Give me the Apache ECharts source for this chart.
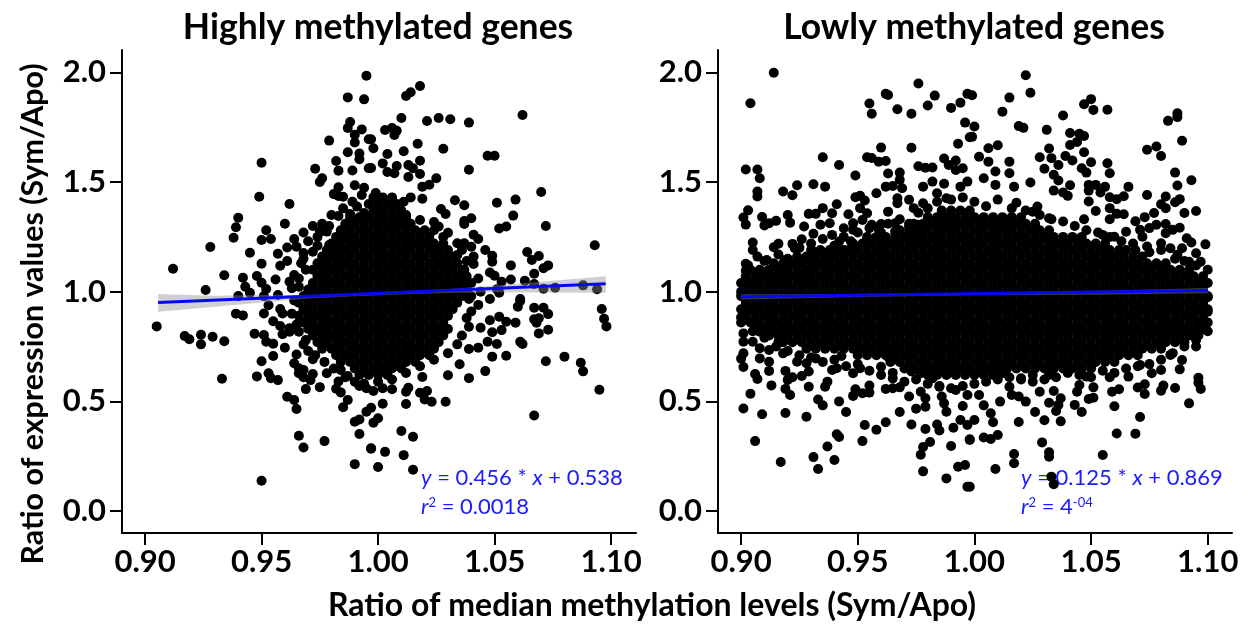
<!DOCTYPE html>
<html><head><meta charset="utf-8">
<script src="https://cdn.jsdelivr.net/npm/echarts@6/dist/echarts.min.js"></script>
<style>html,body{margin:0;background:#fff}#c{width:1250px;height:625px}</style></head>
<body><div id="c"></div>
<script>
const xTicks=[0.9,0.95,1,1.05,1.1];
const yTicks=[0,0.5,1,1.5,2];
const highPoints=[[.995,1.985],[.987,1.886],[.994,1.877],[.988,1.774],[.987,1.746],[.993,1.74],[.99,1.716],[.99,1.68],[.996,1.695],[.979,1.689],[.987,1.636],[.992,1.63],[.992,1.604],[.982,1.596],[.973,1.561],[.983,1.552],[.989,1.553],[.996,1.563],[.976,1.517],[.975,1.5],[.95,1.588],[.949,1.433],[.962,1.4],[.983,1.476],[.99,1.485],[.994,1.474],[.981,1.445],[.983,1.436],[.993,1.441],[.94,1.337],[.939,1.294],[.938,1.246],[.928,1.204],[.912,1.105],[.926,1.008],[.934,1.075],[.945,1.178],[.952,1.28],[.95,1.236],[.954,1.24],[.96,1.31],[.95,1.128],[.957,1.173],[.961,1.202],[.958,1.118],[.961,1.14],[.964,1.24],[.965,1.205],[.942,1.064],[.948,1.072],[.95,1.041],[.943,1.023],[.945,.995],[.952,1.012],[.956,1.056],[.964,1.076],[.962,1.046],[.963,1.016],[.966,1.023],[.94,.98],[.951,.98],[.957,.985],[.972,1.3],[.976,1.31],[.979,1.3],[.975,1.274],[.978,1.274],[.983,1.345],[.986,1.304],[.988,1.354],[.991,1.388],[.989,1.41],[.985,1.433],[.994,1.359],[.979,1.213],[.979,1.167],[.972,1.182],[.968,1.176],[.967,1.13],[.969,1.1],[.975,1.122],[.984,1.243],
[1.018,1.938],[1.014,1.909],[1.012,1.892],[1.01,1.792],[1.021,1.778],[1.026,1.792],[1.031,1.786],[1.039,1.771],[1.062,1.806],[1.003,1.737],[1.006,1.746],[1.008,1.734],[1.007,1.715],[.997,1.695],[.998,1.654],[1.004,1.628],[1.011,1.64],[1.017,1.675],[1.028,1.652],[1.047,1.62],[1.05,1.62],[1.039,1.556],[1.002,1.585],[.997,1.564],[1.004,1.546],[1.008,1.573],[1.007,1.54],[1.013,1.578],[1.015,1.563],[1.018,1.597],[1.013,1.523],[1.018,1.537],[1.025,1.517],[1.022,1.488],[1.019,1.479],[1.07,1.455],[1.059,1.42],[1.051,1.406],[1.033,1.417],[1.037,1.394],[1.027,1.377],[1.029,1.354],[1.019,1.424],[1.014,1.43],[1.058,1.347],[1.055,1.297],[1.052,1.288],[1.072,1.3],[1.04,1.335],[1.037,1.322],[1.037,1.309],[1.024,1.318],[1.026,1.297],[1.018,1.327],[1.041,1.26],[1.043,1.24],[1.03,1.269],[1.093,1.212],[1.046,1.19],[1.064,1.181],[1.069,1.163],[1.066,1.145],[1.049,1.164],[1.049,1.137],[1.057,1.12],[1.073,1.12],[1.071,1.107],[1.067,1.082],[1.041,1.16],[1.041,1.126],[1.037,1.1],[1.048,1.088],[1.05,1.073],[1.057,1.056],[1.053,1.046],[1.063,1.05],[1.067,1.035],[1.071,1.014],[1.076,1.018],[1.088,1.029],[1.094,1.011],[1.051,1.011],[1.052,.995],[1.039,.967],[1.048,.967],[1.061,.967],[1.037,1.023],[1.034,1.221],[1.037,1.221],[1.04,1.205],[1.034,1.167],
[1.061,.958],[1.06,.932],[1.067,.927],[1.071,.927],[1.073,.898],[1.096,.921],[1.097,.877],[1.098,.842],[1.067,.874],[1.069,.879],[1.068,.859],[1.059,.859],[1.073,.827],[1.069,.81],[1.055,.863],[1.052,.886],[1.048,.87],[1.053,.825],[1.044,.836],[1.049,.815],[1.047,.772],[1.051,.762],[1.061,.772],[1.062,.762],[1.039,.739],[1.043,.745],[1.049,.704],[1.055,.708],[1.072,.683],[1.08,.704],[1.087,.676],[1.088,.637],[1.095,.553],[1.067,.436],[1.035,.669],[1.046,.638],[1.039,.606],[1.03,.619],[1.019,.611],[1.013,.562],[1.012,.544],[1.002,.56],[1.006,.555],[.998,.547],[1.018,.539],[1.021,.547],[1.02,.509],[1.023,.498],[1.029,.498],[1.002,.489],[1.012,.488],[.997,.471],[1,.423],[.998,.403],[1.01,.365],[1.015,.339],[.997,.284],[1.003,.27],[1.011,.255],[1,.201],[1.015,.188],
[.905,.842],[.917,.798],[.919,.783],[.924,.804],[.924,.76],[.929,.795],[.934,.774],[.933,.603],[.948,.614],[.95,.683],[.939,.9],[.942,.892],[.951,.901],[.953,.938],[.958,.921],[.959,.901],[.947,.808],[.951,.803],[.952,.772],[.955,.763],[.955,.865],[.958,.844],[.962,.834],[.959,.806],[.962,.818],[.96,.745],[.955,.707],[.953,.628],[.954,.606],[.957,.597],[.965,.714],[.97,.73],[.969,.78],[.966,.818],[.972,.692],[.964,.674],[.966,.651],[.968,.643],[.966,.628],[.968,.61],[.971,.597],[.972,.625],[.978,.628],[.969,.556],[.975,.565],[.983,.591],[.982,.558],[.984,.541],[.961,.521],[.964,.506],[.965,.465],[.987,.506],[.985,.473],[.992,.57],[.995,.56],[.995,.453],[.99,.407],[.992,.418],[.992,.351],[.966,.343],[.968,.29],[.977,.319],[.997,.286],[.99,.214],[.95,.138],[.984,.643],[.987,.616],
[.968,1.27],[.974,1.25],[.97,1.23],[.974,1.21],[.968,1.15],[.966,1.06],[.964,.96],[.963,.9],[.965,.85],[.968,.76],[.973,.71],[.977,.68],[.981,.65],[.986,.61],[.99,.59],[.994,.58],[1,.59],[1.006,.6],[1.012,.63],[1.018,.66],[1.024,.69],[1.03,.72],[1.034,.76],[1.036,.8],[1.039,.84],[1.038,.88],[1.04,.91],[1.043,.94],[1.044,1],[1.043,1.06],[1.038,1.14],[1.036,1.19],[1.028,1.25],[1.024,1.28],[1.012,1.35],[1.006,1.39],[1.011,1.41],[.999,1.45],[.985,1.38],[.98,1.35]];
const highCoreY=[1.43,1.40,1.37,1.34,1.31,1.28,1.25,1.22,1.19,1.16,1.13,1.10,1.07,1.04,1.01,.98,.95,.92,.89,.86,.83,.80,.77,.74,.71,.68,.65,.62];
const highCoreXmilli=[
[998,1002,1006],
[996,1000,1004,1008],
[998,1002,1006,1010],
[988,992,996,1000,1004,1008,1012],
[986,990,994,998,1002,1006,1010,1014],
[984,988,992,996,1000,1004,1008,1012,1016,1020],
[982,986,990,994,998,1002,1006,1010,1014,1018,1022],
[980,984,988,992,996,1000,1004,1008,1012,1016,1020,1024,1028],
[978,982,986,990,994,998,1002,1006,1010,1014,1018,1022,1026,1030],
[976,980,984,988,992,996,1000,1004,1008,1012,1016,1020,1024,1028,1032],
[974,978,982,986,990,994,998,1002,1006,1010,1014,1018,1022,1026,1030,1034],
[972,976,980,984,988,992,996,1000,1004,1008,1012,1016,1020,1024,1028,1032,1036],
[974,978,982,986,990,994,998,1002,1006,1010,1014,1018,1022,1026,1030,1034,1038],
[972,976,980,984,988,992,996,1000,1004,1008,1012,1016,1020,1024,1028,1032,1036,1040],
[970,974,978,982,986,990,994,998,1002,1006,1010,1014,1018,1022,1026,1030,1034,1038],
[968,972,976,980,984,988,992,996,1000,1004,1008,1012,1016,1020,1024,1028,1032,1036,1040],
[966,970,974,978,982,986,990,994,998,1002,1006,1010,1014,1018,1022,1026,1030,1034],
[968,972,976,980,984,988,992,996,1000,1004,1008,1012,1016,1020,1024,1028,1032],
[966,970,974,978,982,986,990,994,998,1002,1006,1010,1014,1018,1022,1026,1030],
[968,972,976,980,984,988,992,996,1000,1004,1008,1012,1016,1020,1024,1028],
[970,974,978,982,986,990,994,998,1002,1006,1010,1014,1018,1022,1026,1030],
[972,976,980,984,988,992,996,1000,1004,1008,1012,1016,1020,1024,1028],
[974,978,982,986,990,994,998,1002,1006,1010,1014,1018,1022,1026],
[976,980,984,988,992,996,1000,1004,1008,1012,1016,1020,1024],
[982,986,990,994,998,1002,1006,1010,1014,1018,1022],
[984,988,992,996,1000,1004,1008,1012,1016],
[990,994,998,1002,1006,1010],
[992,996,1000,1004]];
const lowPoints=[[.914,1.998],[.904,1.859],[.955,1.858],[.956,1.811],[.962,1.902],[.963,1.897],[.967,1.832],[.973,1.811],[.976,1.949],[.98,1.849],[.983,1.894],[.99,1.838],[.994,1.862],[.997,1.902],[.996,1.771],[.993,1.675],[.998,1.704],[.973,1.656],[.96,1.657],[.935,1.613],[.942,1.578],[.949,1.53],[.954,1.613],[.956,1.61],[.959,1.593],[.962,1.596],[.963,1.539],[.968,1.543],[.968,1.51],[.976,1.572],[.979,1.565],[.982,1.566],[.987,1.607],[.992,1.598],[.989,1.578],[.992,1.555],[.995,1.563],[.902,1.557],[.907,1.557],[.908,1.517],[.907,1.457],[.907,1.434],[.918,1.457],[.922,1.44],[.924,1.485],[.931,1.49],[.936,1.479],[.903,1.371],[.901,1.338],[.902,1.306],[.909,1.341],[.92,1.35],[.921,1.315],[.91,1.302],[.912,1.312],[.915,1.323],[.929,1.355],[.932,1.355],[.935,1.381],[.939,1.358],[.941,1.399],[.946,1.353],[.949,1.431],[.951,1.437],[.953,1.416],[.951,1.381],[.954,1.358],[.958,1.449],[.962,1.479],[.965,1.482],[.969,1.472],[.963,1.365],[.967,1.426],[.967,1.403],[.972,1.419],[.974,1.381],[.978,1.479],[.982,1.502],[.987,1.492],[.984,1.449],[.988,1.426],[.978,1.403],[.994,1.479],[.997,1.502],[.927,1.297],[.931,1.264],[.934,1.305],[.938,1.312],[.939,1.259],[.944,1.289],[.948,1.312],[.952,1.327],[.956,1.305],[.96,1.309],[.959,1.285],[.966,1.312],[.966,1.274],[.972,1.297],[.976,1.305],[.976,1.259],[.926,1.239],[.916,1.219],[.914,1.203],[.922,1.218],[.923,1.198],[.905,1.224],[.905,1.19],[.907,1.16],[.911,1.145],[.902,1.127],[.902,1.096],[.908,1.061],[.911,1.092],[.919,1.145],[.926,1.137],[.931,1.183],[.942,1.229],[.948,1.282],[.954,1.221],[.948,1.175],[.944,1.19],[.9,1],[.906,1.005],[.911,1.008],[.916,1.054],[.921,1.069],[.926,1.069],[.931,1.115],[.937,1.13],
[1.022,1.987],[1.024,1.907],[1.015,1.885],[.999,1.896],[1.012,1.821],[1.019,1.755],[1.021,1.747],[1,1.753],[.999,1.706],[1.031,1.738],[1.038,1.803],[1.047,1.855],[1.05,1.878],[1.051,1.829],[1.057,1.83],[1.041,1.724],[1.045,1.72],[1.047,1.71],[1.044,1.683],[1.041,1.669],[1.01,1.668],[1.006,1.654],[1.032,1.653],[1.047,1.636],[1.039,1.619],[1.028,1.613],[1.033,1.609],[1.002,1.615],[1.006,1.593],[1.015,1.593],[1.042,1.598],[1.05,1.59],[1.057,1.586],[1.036,1.578],[1.03,1.561],[1.046,1.563],[1.048,1.543],[1.058,1.54],[1.009,1.548],[1.015,1.54],[1.034,1.533],[1.036,1.507],[1.074,1.647],[1.078,1.662],[1.08,1.619],[1.087,1.814],[1.087,1.796],[1.083,1.779],[1.089,1.688],[1.086,1.543],[1.093,1.508],[1.087,1.484],[1.066,1.478],[1.056,1.478],[1.052,1.487],[1.049,1.487],[1.041,1.485],[1.024,1.498],[1.017,1.479],[1.009,1.487],[1.004,1.517],[1.034,1.461],[1.038,1.452],[1.04,1.437],[1.049,1.461],[1.054,1.452],[1.049,1.411],[1.058,1.431],[1.061,1.422],[1.064,1.435],[1.074,1.441],[1.082,1.434],[1.088,1.422],[1.086,1.408],[1.08,1.399],[1.082,1.381],[1.09,1.359],[1.095,1.368],[1.077,1.359],[1.073,1.34],[1.069,1.321],[1.058,1.33],[1.058,1.381],[1.052,1.368],[1.061,1.355],[1.064,1.353],[1.047,1.33],[1.018,1.406],[1.025,1.365],[1.027,1.388],[1.032,1.335],[1.075,1.29],[1.078,1.305],[1.082,1.309],[1.088,1.292],[1.071,1.282],[1.072,1.251],[1.065,1.273],[1.06,1.251],[1.055,1.259],[1.099,1.216],[1.095,1.175],[1.093,1.224],[1.089,1.198],[1.091,1.244],[1.087,1.168],[1.084,1.198],[1.08,1.221],[1.082,1.267],[1.085,1.282],[1.069,1.19],[1.074,1.206],[1.092,1.137],[1.097,1.137],[1.065,1.19],
[.9,.883],[.901,.468],[.904,.535],[.906,.319],[.909,.441],[.917,.224],[.919,.447],[.928,.43],[.931,.246],[.933,.192],[.94,.233],[.937,.294],[.941,.35],[.942,.338],[.945,.452],[.935,.482],[.933,.509],[.942,.5],[.952,.319],[.953,.392],[.958,.371],[.962,.405],[.968,.452],[.973,.395],[.975,.467],[.979,.374],[.984,.395],[.985,.367],[.991,.38],[.988,.453],[.981,.315],[.978,.292],[.977,.257],[.978,.181],[.988,.149],[.99,.297],[.993,.202],[.996,.21],[.997,.111],[.998,.324],[.994,.415],[.997,.392],[.913,.573],[.907,.602],[.906,.625],[.901,.657],[.9,.695],[.901,.719],[.919,.639],[.918,.719],[.912,.639],[.912,.681],[.908,.696],[.919,.557],[.921,.529],[.92,.598],[.922,.61],[.926,.616],[.929,.567],[.929,.636],[.936,.567],[.937,.59],[.939,.643],[.941,.651],[.924,.681],[.928,.674],[.932,.696],[.943,.707],[.948,.525],[.949,.555],[.952,.537],[.955,.572],[.955,.54],[.948,.628],[.951,.651],[.962,.557],[.965,.56],[.968,.564],[.972,.522],[.977,.544],[.979,.514],[.979,.476],[.985,.567],[.986,.522],[.987,.491],[.992,.552],[.995,.479],[.997,.529],[.96,.658],[.965,.605],[.973,.636],[.977,.628],[.982,.605],[.963,.704],[.901,.81],[.901,.772],[.908,.818],[.905,.772],[.908,.742],[.912,.734],[.916,.772],[.919,.813],
[1.033,.157],[1.034,.122],[1.009,.192],[1.017,.218],[1.017,.26],[.998,.111],[1.032,.248],[1.032,.268],[1.029,.313],[1.055,.256],[1.061,.354],[1.069,.353],[1.071,.429],[1.092,.491],[1.06,.478],[1.046,.452],[1.037,.409],[1.03,.414],[1.019,.406],[1.026,.452],[1.035,.456],[1.008,.405],[1.007,.446],[1.004,.482],[1,.415],[.998,.327],[1.004,.335],[1.007,.329],[1.01,.347],[1.011,.499],[1.002,.529],[1.022,.499],[1.032,.494],[1.036,.484],[1.037,.514],[1.043,.484],[1.049,.511],[1.051,.517],[1.051,.564],[1.059,.544],[1.062,.555],[1.07,.563],[1.073,.578],[1.073,.534],[1.08,.549],[1.081,.572],[1.086,.561],[1.097,.557],[1.096,.585],[1.096,.608],[1.034,.547],[1.044,.544],[1.045,.575],[1.019,.522],[1.016,.529],[1.028,.544],[1.025,.59],[1.015,.567],[1.012,.628],[1.02,.605],[1.032,.62],[1.048,.613],[1.058,.61],[1.066,.613],[1.071,.666],[1.076,.628],[1.08,.643],[1.088,.646],[1.089,.689],[1.084,.712],[1.095,.75],[1.097,.826],[1.1,.909],[1.1,.975],
[.903,1.12],[.91,1.14],[.916,1.17],[.92,1.15],[.925,1.2],[.93,1.22],[.935,1.24],[.94,1.21],[.944,1.25],[.947,1.23],[.95,1.27],[.955,1.29],[.96,1.27],[.963,1.31],[.968,1.33],[.972,1.31],[.976,1.36],[.98,1.38],[.984,1.41],[.99,1.42],[.995,1.43],[1,1.41],[1.005,1.39],[1.01,1.42],[1.016,1.38],[1.022,1.37],[1.028,1.35],[1.033,1.33],[1.038,1.32],[1.043,1.3],[1.048,1.28],[1.053,1.27],[1.058,1.25],[1.063,1.23],[1.068,1.22],[1.075,1.18],[1.08,1.19],[1.086,1.15],[1.09,1.14],[1.095,1.12],[1.1,1.1],
[.905,.82],[.91,.79],[.915,.75],[.92,.73],[.925,.71],[.93,.7],[.935,.68],[.94,.69],[.945,.66],[.95,.67],[.955,.64],[.96,.62],[.965,.63],[.97,.59],[.975,.6],[.98,.58],[.985,.57],[.99,.56],[.995,.57],[1,.58],[1.005,.59],[1.01,.6],[1.015,.61],[1.02,.6],[1.025,.62],[1.03,.6],[1.035,.61],[1.04,.63],[1.045,.62],[1.05,.61],[1.055,.64],[1.06,.63],[1.065,.65],[1.07,.66],[1.075,.67],[1.08,.69],[1.085,.72],[1.09,.75],[1.095,.78],[1.1,.82]];
const lowCoreY=[1.37,1.34,1.31,1.28,1.25,1.22,1.19,1.16,1.13,1.10,1.07,1.04,1.01,.98,.95,.92,.89,.86,.83,.80,.77,.74,.71,.68,.65,.62];
const fullEven=[900,904,908,912,916,920,924,928,932,936,940,944,948,952,956,960,964,968,972,976,980,984,988,992,996,1000,1004,1008,1012,1016,1020,1024,1028,1032,1036,1040,1044,1048,1052,1056,1060,1064,1068,1072,1076,1080,1084,1088,1092,1096,1100];
const fullOdd=[902,906,910,914,918,922,926,930,934,938,942,946,950,954,958,962,966,970,974,978,982,986,990,994,998,1002,1006,1010,1014,1018,1022,1026,1030,1034,1038,1042,1046,1050,1054,1058,1062,1066,1070,1074,1078,1082,1086,1090,1094,1098];
const lowCoreXmilli=[
[986,990,994,998],
[980,984,988,992,996,1000,1004,1008,1012,1016,1020],
[974,978,982,986,990,994,998,1002,1006,1010,1014,1018,1022,1026],
[968,972,976,980,984,988,992,996,1000,1004,1008,1012,1016,1020,1024,1028,1032],
[954,958,962,966,970,974,978,982,986,990,994,998,1002,1006,1010,1014,1018,1022,1026,1030,1034,1038,1042,1046],
[948,952,956,960,964,968,972,976,980,984,988,992,996,1000,1004,1008,1012,1016,1020,1024,1028,1032,1036,1040,1044,1048,1052,1056],
[930,934,938,942,946,950,954,958,962,966,970,974,978,982,986,990,994,998,1002,1006,1010,1014,1018,1022,1026,1030,1034,1038,1042,1046,1050,1054,1058,1062],
[924,928,932,936,940,944,948,952,956,960,964,968,972,976,980,984,988,992,996,1000,1004,1008,1012,1016,1020,1024,1028,1032,1036,1040,1044,1048,1052,1056,1060,1064,1068,1072],
[914,918,922,926,930,934,938,942,946,950,954,958,962,966,970,974,978,982,986,990,994,998,1002,1006,1010,1014,1018,1022,1026,1030,1034,1038,1042,1046,1050,1054,1058,1062,1066,1070,1074,1078,1082],
[904,908,912,916,920,924,928,932,936,940,944,948,952,956,960,964,968,972,976,980,984,988,992,996,1000,1004,1008,1012,1016,1020,1024,1028,1032,1036,1040,1044,1048,1052,1056,1060,1064,1068,1072,1076,1080,1084,1088,1092],
fullOdd,fullEven,fullOdd,fullEven,fullOdd,fullEven,fullOdd,fullEven,
[906,910,914,918,922,926,930,934,938,942,946,950,954,958,962,966,970,974,978,982,986,990,994,998,1002,1006,1010,1014,1018,1022,1026,1030,1034,1038,1042,1046,1050,1054,1058,1062,1066,1070,1074,1078,1082,1086,1090,1094,1098],
[912,916,920,924,928,932,936,940,944,948,952,956,960,964,968,972,976,980,984,988,992,996,1000,1004,1008,1012,1016,1020,1024,1028,1032,1036,1040,1044,1048,1052,1056,1060,1064,1068,1072,1076,1080,1084,1088,1092,1096],
[918,922,926,930,934,938,942,946,950,954,958,962,966,970,974,978,982,986,990,994,998,1002,1006,1010,1014,1018,1022,1026,1030,1034,1038,1042,1046,1050,1054,1058,1062,1066,1070,1074,1078,1082,1086,1090],
[928,932,936,940,944,948,952,956,960,964,968,972,976,980,984,988,992,996,1000,1004,1008,1012,1016,1020,1024,1028,1032,1036,1040,1044,1048,1052,1056,1060,1064,1068,1072,1076,1080],
[950,954,958,962,966,970,974,978,982,986,990,994,998,1002,1006,1010,1014,1018,1022,1026,1030,1034,1038,1042,1046,1050,1054,1058,1062,1066,1070],
[964,968,972,976,980,984,988,992,996,1000,1004,1008,1012,1016,1020,1024,1028,1032,1036,1040,1044,1048,1052,1056,1060],
[970,974,978,982,986,990,994,998,1002,1006,1010,1014,1018,1022,1026,1030,1034,1038,1042,1046,1050],
[980,984,988,992,996,1000,1004,1008]];
const highLineX=[0.9056,1.0977], highLineY=[0.951,1.036];
const lowLineX=[0.9,1.1], lowLineY=[0.977,1.005];
const highBandX=[.9056,.93,.95,.97,.985,1,1.015,1.03,1.05,1.075,1.0977];
const highBandLow=[.909,.932,.951,.969,.977,.984,.990,.994,.998,.997,.995];
const highBandHigh=[.990,.982,.985,.985,.988,.995,1.003,1.012,1.028,1.050,1.071];
const lowBandX=[.9,.95,1,1.05,1.1];
const lowBandLow=[.965,.976,.984,.986,.993];
const lowBandHigh=[.989,.990,.994,1.003,1.017];

const FONT='Lato';
const expand=(ys,rows)=>ys.flatMap((y,i)=>rows[i].map(m=>[m/1000,y]));
const axisLine={show:true,onZero:false,lineStyle:{color:'#000',width:2}};
const xAxisOf=(i,min,max)=>({type:'value',gridIndex:i,min,max,splitLine:{show:false},axisLine,
  axisTick:{show:true,length:12,lineStyle:{color:'#000',width:2},customValues:xTicks},
  axisLabel:{customValues:xTicks,formatter:v=>v.toFixed(2),fontFamily:FONT,fontWeight:'bold',fontSize:31,color:'#000',margin:13}});
const yAxisOf=i=>({type:'value',gridIndex:i,min:-0.1,max:2.102,splitLine:{show:false},axisLine,
  axisTick:{show:true,length:12,lineStyle:{color:'#000',width:2},customValues:yTicks},
  axisLabel:{customValues:yTicks,formatter:v=>v.toFixed(1),fontFamily:FONT,fontWeight:'bold',fontSize:31,color:'#000',margin:16}});
const pts=(i,data)=>({type:'scatter',xAxisIndex:i,yAxisIndex:i,data,symbol:'circle',symbolSize:10,itemStyle:{color:'#000',opacity:1},silent:true,z:2,large:false});
const band=(i,xs,lo,hi)=>({type:'custom',xAxisIndex:i,yAxisIndex:i,z:3,silent:true,encode:{x:0,y:[1,2]},
  data:xs.map((x,k)=>[x,lo[k],hi[k]]),
  renderItem:(p,api)=>{ if(p.dataIndex!==0) return null;
    const top=xs.map((x,k)=>api.coord([x,hi[k]])), bot=xs.map((x,k)=>api.coord([x,lo[k]])).reverse();
    return {type:'polygon',shape:{points:top.concat(bot)},style:{fill:'rgba(143,143,143,0.42)'}};}});
const reg=(i,xs,ys)=>({type:'line',xAxisIndex:i,yAxisIndex:i,z:4,silent:true,showSymbol:false,data:xs.map((x,k)=>[x,ys[k]]),lineStyle:{color:'#0808f0',width:3}});
const rich={i:{fontStyle:'italic',fontFamily:FONT,fontSize:22,fill:'#1a1aff',color:'#1a1aff'},
  n:{fontFamily:FONT,fontSize:22,fill:'#1a1aff',color:'#1a1aff'},
  s:{fontFamily:FONT,fontSize:13,fill:'#1a1aff',color:'#1a1aff',padding:[0,0,9,0]}};
const note=(x,y,text)=>({type:'text',x,y,z:1,silent:true,style:{text,rich,fontFamily:FONT,fontSize:22,fill:'#1a1aff',textVerticalAlign:'middle'}});

const chart=echarts.init(document.getElementById('c'),null,{renderer:'canvas'});
chart.setOption({animation:false,backgroundColor:'#fff',
  title:[
    {text:'Highly methylated genes',left:373,top:5,textAlign:'center',textStyle:{fontFamily:FONT,fontWeight:'bold',fontSize:35.5,color:'#000'}},
    {text:'Lowly methylated genes',left:969,top:5,textAlign:'center',textStyle:{fontFamily:FONT,fontWeight:'bold',fontSize:35.5,color:'#000'}}],
  grid:[{left:122,width:514,top:50,height:483},{left:718,width:514,top:50,height:483}],
  xAxis:[xAxisOf(0,0.8901,1.1107),xAxisOf(1,0.8901,1.1104)],
  yAxis:[yAxisOf(0),yAxisOf(1)],
  graphic:{elements:[
    {type:'text',x:33,y:314,rotation:Math.PI/2,z:5,style:{text:'Ratio of expression values (Sym/Apo)',textAlign:'center',textVerticalAlign:'middle',fontFamily:FONT,fontWeight:'bold',fontSize:30.4,fill:'#000'}},
    {type:'text',x:652,y:606,z:5,style:{text:'Ratio of median methylation levels (Sym/Apo)',textAlign:'center',textVerticalAlign:'middle',fontFamily:FONT,fontWeight:'bold',fontSize:32,fill:'#000'}},
    note(421,478,'{i|y} {n|= 0.456 *} {i|x} {n|+ 0.538}'),
    note(421,507,'{i|r}{s|2}{n| = 0.0018}'),
    note(1021,478,'{i|y} {n|= 0.125 *} {i|x} {n|+ 0.869}'),
    note(1021,507,'{i|r}{s|2}{n| = 4}{s|-04}')]},
  series:[
    pts(0,highPoints),pts(0,expand(highCoreY,highCoreXmilli)),band(0,highBandX,highBandLow,highBandHigh),reg(0,highLineX,highLineY),
    pts(1,lowPoints),pts(1,expand(lowCoreY,lowCoreXmilli)),band(1,lowBandX,lowBandLow,lowBandHigh),reg(1,lowLineX,lowLineY)]
});
</script></body></html>
